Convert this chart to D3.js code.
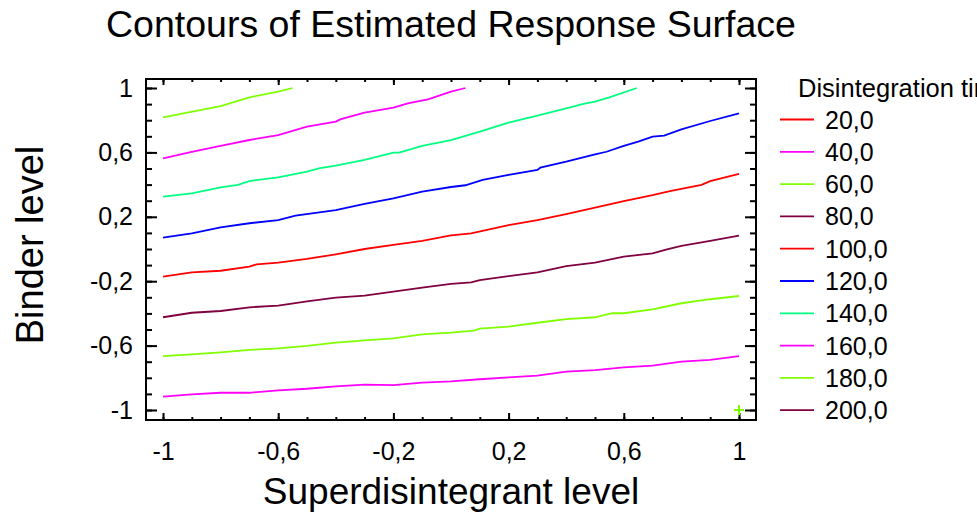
<!DOCTYPE html>
<html>
<head>
<meta charset="utf-8">
<script src="https://cdn.jsdelivr.net/npm/d3@7"></script>
<style>
  html, body { margin: 0; padding: 0; background: #fff; }
  svg { display: block; font-family: "Liberation Sans", Arial, sans-serif; }
</style>
</head>
<body>
<div id="chart"></div>
<script>
// Contour levels shown in the legend and their colours.
const levels = [20, 40, 60, 80, 100, 120, 140, 160, 180, 200];
const levelColors = ['#ff0000', '#ff00ff', '#80ff00', '#800040', '#ff0000',
                     '#0000ff', '#00ff80', '#ff00ff', '#80ff00', '#800040'];

// Axis ticks.
const majorTicks = [-1, -0.6, -0.2, 0.2, 0.6, 1];
const minorTicks = d3.range(-10, 11).map(i => i / 10);

// Contour polylines, [superdisintegrant, binder].
const contour40 = [[-1,-0.917],[-0.9,-0.903],[-0.8,-0.893],[-0.7,-0.893],[-0.6,-0.878],[-0.5,-0.868],
  [-0.4,-0.853],[-0.3,-0.843],[-0.2,-0.845],[-0.1,-0.830],[0,-0.822],[0.1,-0.809],[0.2,-0.797],
  [0.3,-0.787],[0.4,-0.762],[0.5,-0.752],[0.6,-0.735],[0.7,-0.725],[0.8,-0.700],[0.9,-0.689],[1,-0.665]];
const contour60 = [[-1,-0.665],[-0.9,-0.654],[-0.8,-0.642],[-0.7,-0.627],[-0.6,-0.617],[-0.5,-0.602],
  [-0.4,-0.582],[-0.3,-0.567],[-0.2,-0.555],[-0.1,-0.530],[0,-0.519],[0.08,-0.507],[0.1,-0.495],
  [0.2,-0.482],[0.3,-0.458],[0.4,-0.435],[0.5,-0.424],[0.56,-0.399],[0.6,-0.399],[0.7,-0.375],
  [0.8,-0.337],[0.9,-0.312],[1,-0.292]];
const contour80 = [[-1,-0.424],[-0.9,-0.396],[-0.8,-0.385],[-0.7,-0.362],[-0.6,-0.352],[-0.5,-0.325],
  [-0.4,-0.302],[-0.3,-0.290],[-0.2,-0.265],[-0.1,-0.240],[0,-0.216],[0.07,-0.207],[0.1,-0.193],
  [0.2,-0.168],[0.3,-0.145],[0.4,-0.106],[0.5,-0.085],[0.6,-0.048],[0.7,-0.027],[0.75,-0.002],
  [0.8,0.019],[0.9,0.050],[1,0.083]];
const contour100 = [[-1,-0.172],[-0.9,-0.145],[-0.8,-0.135],[-0.7,-0.110],[-0.675,-0.095],[-0.6,-0.085],
  [-0.5,-0.062],[-0.4,-0.033],[-0.3,0.0],[-0.2,0.025],[-0.1,0.050],[0,0.085],[0.07,0.097],[0.2,0.149],
  [0.3,0.180],[0.4,0.217],[0.5,0.257],[0.6,0.298],[0.7,0.335],[0.76,0.360],[0.87,0.398],[0.9,0.422],[1,0.466]];
const contour120 = [[-1,0.070],[-0.9,0.097],[-0.8,0.135],[-0.7,0.160],[-0.6,0.180],[-0.54,0.207],
  [-0.4,0.242],[-0.3,0.280],[-0.2,0.315],[-0.1,0.356],[0,0.385],[0.05,0.396],[0.11,0.429],[0.2,0.460],
  [0.3,0.491],[0.31,0.505],[0.4,0.542],[0.5,0.588],[0.54,0.604],[0.6,0.640],[0.65,0.667],[0.7,0.698],
  [0.74,0.704],[0.8,0.743],[0.9,0.795],[1,0.843]];
const contour140 = [[-1,0.325],[-0.9,0.346],[-0.8,0.383],[-0.74,0.398],[-0.7,0.422],[-0.6,0.445],
  [-0.5,0.480],[-0.455,0.503],[-0.4,0.518],[-0.3,0.553],[-0.2,0.598],[-0.18,0.598],[-0.1,0.640],
  [0,0.676],[0.1,0.729],[0.2,0.785],[0.3,0.828],[0.4,0.874],[0.46,0.901],[0.5,0.915],[0.55,0.942],[0.645,1.0]];
const contour160 = [[-1,0.563],[-0.9,0.604],[-0.8,0.640],[-0.7,0.677],[-0.6,0.708],[-0.5,0.760],
  [-0.4,0.791],[-0.385,0.805],[-0.3,0.847],[-0.2,0.878],[-0.15,0.905],[-0.08,0.930],[0,0.978],[0.05,1.0]];
const contour180 = [[-1,0.818],[-0.8,0.888],[-0.7,0.942],[-0.6,0.977],[-0.55,1.0]];

// Single marker drawn at the corner of the design region.
const markerPoints = [[1, -1]];

const contours = [
  {level: 40, points: contour40},
  {level: 60, points: contour60},
  {level: 80, points: contour80},
  {level: 100, points: contour100},
  {level: 120, points: contour120},
  {level: 140, points: contour140},
  {level: 160, points: contour160},
  {level: 180, points: contour180}
];
const colorOf = d3.scaleOrdinal().domain(levels).range(levelColors);

const W = 977, H = 518;
const locale = d3.formatLocale({decimal: ',', thousands: '.', grouping: [3], currency: ['', ''], minus: '-'});
const fmtTick = v => Number.isInteger(v) ? String(v) : locale.format('.1f')(v);
const fmtLevel = locale.format('.1f');

const svg = d3.select('#chart').append('svg')
    .attr('width', W)
    .attr('height', H)
    .attr('viewBox', `0 0 ${W} ${H}`)
    .style('overflow', 'hidden');

svg.append('rect').attr('width', W).attr('height', H).attr('fill', '#fff');

// Scales: data -1..1, frame slightly padded outside.
const x = d3.scaleLinear().domain([-1, 1]).range([163, 739]);
const y = d3.scaleLinear().domain([-1, 1]).range([410, 88]);
const frame = {left: 146, right: 756, top: 79, bottom: 420};

// Title.
svg.append('text')
    .attr('x', 451)
    .attr('y', 37)
    .attr('text-anchor', 'middle')
    .style('font-size', '37.5px')
    .text('Contours of Estimated Response Surface');

// Axes (ticks point inward on all four sides).
function addAxis(axisFn, scale, pos, values, size, withLabels, padding) {
    const a = axisFn(scale).tickValues(values).tickSizeInner(-size).tickSizeOuter(0)
        .tickPadding(padding).tickFormat(withLabels ? fmtTick : '');
    const g = svg.append('g').attr('transform', pos).call(a);
    g.select('.domain').remove();
    g.selectAll('.tick line').attr('stroke', '#000').attr('stroke-width', 2);
    g.selectAll('text').style('font-size', '25px').attr('fill', '#000');
    return g;
}
addAxis(d3.axisBottom, x, `translate(0,${frame.bottom})`, minorTicks, 3, false, 0);
addAxis(d3.axisBottom, x, `translate(0,${frame.bottom})`, majorTicks, 7, true, 22);
addAxis(d3.axisTop, x, `translate(0,${frame.top})`, minorTicks, 3, false, 0);
addAxis(d3.axisTop, x, `translate(0,${frame.top})`, majorTicks, 6, false, 0);
addAxis(d3.axisLeft, y, `translate(${frame.left},0)`, minorTicks, 6, false, 0);
addAxis(d3.axisLeft, y, `translate(${frame.left},0)`, majorTicks, 11, true, 13);
addAxis(d3.axisRight, y, `translate(${frame.right},0)`, minorTicks, 6, false, 0);
addAxis(d3.axisRight, y, `translate(${frame.right},0)`, majorTicks, 11, false, 0);

svg.append('rect')
    .attr('x', frame.left)
    .attr('y', frame.top)
    .attr('width', frame.right - frame.left)
    .attr('height', frame.bottom - frame.top)
    .attr('fill', 'none')
    .attr('stroke', '#000')
    .attr('stroke-width', 2);

// Axis titles.
svg.append('text')
    .attr('x', 451)
    .attr('y', 504)
    .attr('text-anchor', 'middle')
    .style('font-size', '37px')
    .text('Superdisintegrant level');
svg.append('text')
    .attr('transform', 'translate(43,245)rotate(-90)')
    .attr('text-anchor', 'middle')
    .style('font-size', '38px')
    .text('Binder level');

// Contour lines.
const line = d3.line().x(d => x(d[0])).y(d => y(d[1]));
svg.append('g')
  .selectAll('path')
  .data(contours)
  .enter()
  .append('path')
    .attr('d', d => line(d.points))
    .attr('fill', 'none')
    .attr('stroke', d => colorOf(d.level))
    .attr('stroke-width', 1.8);

// Marker.
svg.append('g')
  .selectAll('path')
  .data(markerPoints)
  .enter()
  .append('path')
    .attr('d', d => `M${x(d[0]) - 5},${y(d[1])}h10M${x(d[0])},${y(d[1]) - 5}v10`)
    .attr('stroke', '#80ff00')
    .attr('stroke-width', 2);

// Legend (title runs off the right edge, as in the original).
svg.append('text')
    .attr('x', 798)
    .attr('y', 97)
    .style('font-size', '25.5px')
    .text('Disintegration time');
const legend = svg.append('g')
  .selectAll('g')
  .data(levels)
  .enter()
  .append('g')
    .attr('transform', (d, i) => `translate(0,${119.5 + i * 32.3})`);
legend.append('line')
    .attr('x1', 780).attr('x2', 814)
    .attr('stroke', d => colorOf(d))
    .attr('stroke-width', 1.8);
legend.append('text')
    .attr('x', 825)
    .attr('dy', '0.36em')
    .style('font-size', '25px')
    .text(d => fmtLevel(d));
</script>
</body>
</html>
